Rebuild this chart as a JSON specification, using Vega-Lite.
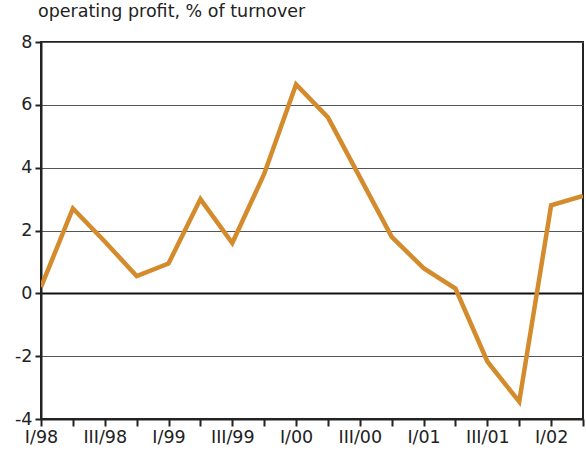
{
  "$schema": "https://vega.github.io/schema/vega-lite/v6.json",
  "width": 542,
  "height": 377,
  "autosize": "none",
  "padding": {"left": 41, "top": 42, "right": 3, "bottom": 40},
  "background": "white",
  "title": {
    "text": "operating profit, % of turnover",
    "anchor": "start",
    "frame": "group",
    "orient": "top",
    "offset": 13,
    "dx": -3,
    "font": "DejaVu Sans",
    "fontSize": 17.5,
    "fontWeight": "normal",
    "color": "#222"
  },
  "config": {
    "view": {"stroke": "#222", "strokeWidth": 2},
    "axis": {"labelFont": "DejaVu Sans", "labelFontSize": 17.5, "labelColor": "#222", "domainColor": "#222", "tickColor": "#222", "domainWidth": 2, "tickWidth": 2}
  },
  "data": {
    "values": [
      {"quarter": "I/98", "value": 0.2},
      {"quarter": "II/98", "value": 2.7},
      {"quarter": "III/98", "value": 1.65},
      {"quarter": "IV/98", "value": 0.55},
      {"quarter": "I/99", "value": 0.95},
      {"quarter": "II/99", "value": 3.0},
      {"quarter": "III/99", "value": 1.6},
      {"quarter": "IV/99", "value": 3.8},
      {"quarter": "I/00", "value": 6.65},
      {"quarter": "II/00", "value": 5.6},
      {"quarter": "III/00", "value": 3.7},
      {"quarter": "IV/00", "value": 1.8},
      {"quarter": "I/01", "value": 0.8},
      {"quarter": "II/01", "value": 0.15},
      {"quarter": "III/01", "value": -2.17},
      {"quarter": "IV/01", "value": -3.45},
      {"quarter": "I/02", "value": 2.8},
      {"quarter": "II/02", "value": 3.1}
    ]
  },
  "mark": {"type": "line", "color": "#D38B2C", "strokeWidth": 4.5, "strokeJoin": "miter", "clip": true},
  "encoding": {
    "x": {
      "field": "quarter",
      "type": "ordinal",
      "sort": null,
      "scale": {"type": "point", "padding": 0},
      "axis": {
        "title": null,
        "labelAngle": 0,
        "tickSize": 7,
        "labelPadding": 2,
        "grid": false,
        "labelExpr": "test(/^(I|III)\\//, datum.label) ? datum.label : ''"
      }
    },
    "y": {
      "field": "value",
      "type": "quantitative",
      "scale": {"domain": [-4, 8], "nice": false, "zero": false},
      "axis": {
        "title": null,
        "values": [-4, -2, 0, 2, 4, 6, 8],
        "tickSize": 6,
        "labelPadding": 3,
        "grid": true,
        "labelExpr": "datum.value < 0 ? '-' + abs(datum.value) : datum.label",
        "gridColor": {"condition": {"test": "datum.value === 0", "value": "#111"}, "value": "#555"},
        "gridWidth": {"condition": {"test": "datum.value === 0", "value": 1.8}, "value": 1}
      }
    }
  }
}
